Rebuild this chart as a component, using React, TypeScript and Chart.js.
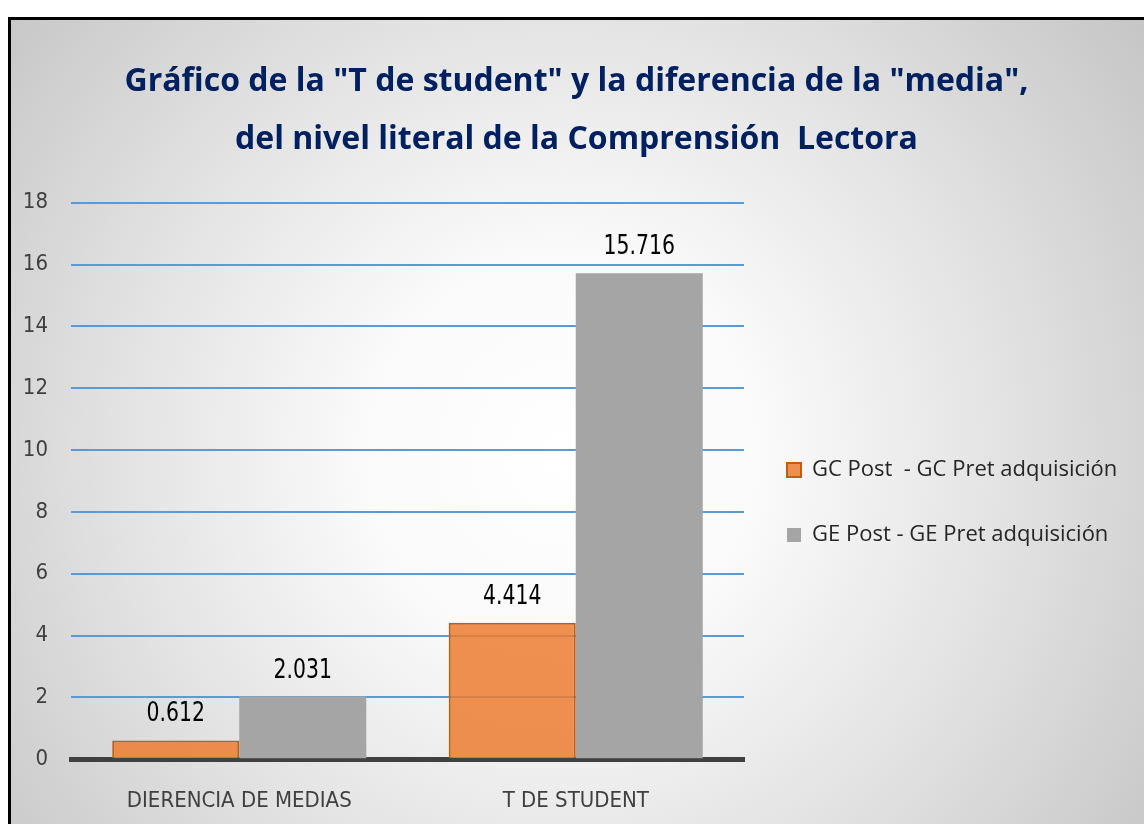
import React, { useEffect, useRef } from 'react';
import { Chart, registerables } from 'chart.js';

Chart.register(...registerables);

const categories = ['DIERENCIA DE MEDIAS', 'T DE STUDENT'];
const seriesNames = ['GC Post  - GC Pret adquisición', 'GE Post - GE Pret adquisición'];
const gcValues = [0.612, 4.414];
const geValues = [2.031, 15.716];
const titleLines = [
  'Gráfico de la "T de student" y la diferencia de la "media",',
  'del nivel literal de la Comprensión  Lectora',
];
const yMin = 0;
const yMax = 18;
const yStep = 2;

const NARROW = '"Liberation Sans Narrow", "Arial Narrow", "DejaVu Sans Condensed", sans-serif';
const SANS = '"Open Sans", "Noto Sans", sans-serif';

const W = 1140;
const H = 810;
const LEGEND_WIDTH = 398;

const valueLabels = {
  id: 'valueLabels',
  afterDatasetsDraw(chart: any) {
    const ctx = chart.ctx;
    chart.data.datasets.forEach((ds: any, i: number) => {
      const meta = chart.getDatasetMeta(i);
      meta.data.forEach((el: any, j: number) => {
        const v = ds.data[j] as number;
        ctx.save();
        ctx.font = `27px ${NARROW}`;
        ctx.fillStyle = '#000000';
        ctx.textAlign = 'center';
        ctx.textBaseline = 'middle';
        ctx.translate(el.x, el.y - 26);
        ctx.scale(0.84, 1);
        ctx.fillText(v.toFixed(3), 0, 0);
        ctx.restore();
      });
    });
  },
};

const legendWidth = {
  id: 'legendWidth',
  beforeUpdate(chart: any) {
    const lg: any = chart.legend;
    if (lg && !lg.__patched) {
      const orig = lg.fit.bind(lg);
      lg.fit = function () {
        orig();
        this.width = LEGEND_WIDTH;
      };
      lg.__patched = true;
    }
  },
};

export default function App() {
  const ref = useRef<HTMLCanvasElement | null>(null);

  useEffect(() => {
    if (!ref.current) return;
    const chart = new Chart(ref.current, {
      type: 'bar',
      data: {
        labels: categories,
        datasets: [
          {
            label: seriesNames[0],
            data: gcValues,
            backgroundColor: 'rgba(237,125,49,0.85)',
            borderColor: '#C55A11',
            borderWidth: 2,
            barPercentage: 1,
            categoryPercentage: 0.755,
          },
          {
            label: seriesNames[1],
            data: geValues,
            backgroundColor: '#A5A5A5',
            borderWidth: 0,
            barPercentage: 1,
            categoryPercentage: 0.755,
          },
        ],
      },
      options: {
        animation: false,
        responsive: false,
        devicePixelRatio: 1,
        events: [],
        layout: { padding: { left: 0, right: 9, top: 0, bottom: 0 } },
        plugins: {
          tooltip: { enabled: false },
          title: {
            display: true,
            text: titleLines,
            color: '#002060',
            font: { family: SANS, size: 32, weight: 'bold', lineHeight: '58px' },
            padding: { top: 33, bottom: 33.7 },
          },
          legend: {
            display: true,
            position: 'right',
            fullSize: false,
            align: 'center',
            title: { display: true, text: '', font: { size: 1, lineHeight: '43px' }, padding: 0 },
            labels: {
              boxWidth: 14,
              boxHeight: 14,
              padding: 43,
              color: '#262626',
              font: { family: SANS, size: 22 },
            },
          },
        },
        scales: {
          x: {
            z: 1,
            grid: { display: false },
            border: { display: true, color: '#404040', width: 5 },
            ticks: { color: '#404040', font: { family: NARROW, size: 22 }, padding: 21 },
            afterFit: (s: any) => {
              s.height = 70.7;
            },
          },
          y: {
            min: yMin,
            max: yMax,
            ticks: { stepSize: yStep, color: '#404040', font: { family: NARROW, size: 22 }, padding: 23 },
            grid: { color: '#5B9BD5', lineWidth: 2, drawTicks: false },
            border: { display: false },
            afterFit: (s: any) => {
              s.width = 60;
            },
          },
        },
      },
      plugins: [valueLabels, legendWidth],
    } as any);
    return () => chart.destroy();
  }, []);

  return (
    <div
      style={{
        position: 'fixed',
        left: 8,
        top: 17,
        width: W,
        height: H,
        border: '3px solid #000',
        overflow: 'hidden',
        background:
          'radial-gradient(circle 720px at 552px 433px, #ffffff 0px, #fafafa 200px, #e2e2e2 450px, #c6c6c6 720px)',
      }}
    >
      <canvas ref={ref} width={W} height={H} style={{ display: 'block', width: W, height: H }} />
    </div>
  );
}
